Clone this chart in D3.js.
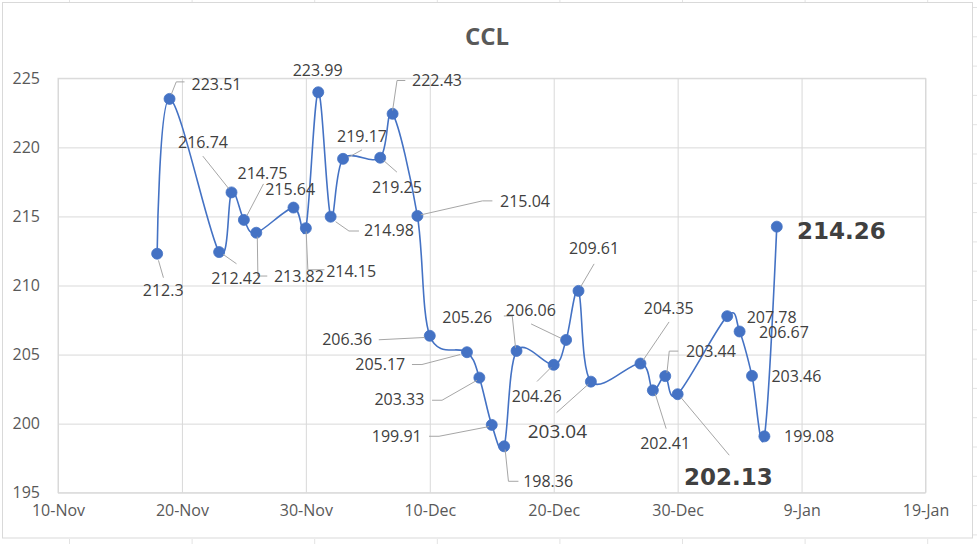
<!DOCTYPE html>
<html><head><meta charset="utf-8">
<script src="https://cdn.jsdelivr.net/npm/d3@7"></script>
<style>body{margin:0;background:#fff} svg{display:block}</style>
</head><body>
<svg id="c" width="980" height="544"></svg>
<script>
const title = "CCL";
const dates = ["2022-11-18","2022-11-19","2022-11-23","2022-11-24","2022-11-25","2022-11-26","2022-11-29","2022-11-30","2022-12-01","2022-12-02","2022-12-03","2022-12-06","2022-12-07","2022-12-09","2022-12-10","2022-12-13","2022-12-14","2022-12-15","2022-12-16","2022-12-17","2022-12-20","2022-12-21","2022-12-22","2022-12-23","2022-12-27","2022-12-28","2022-12-29","2022-12-30","2023-01-03","2023-01-04","2023-01-05","2023-01-06","2023-01-07"];
const values = [212.3,223.51,212.42,216.74,214.75,213.82,215.64,214.15,223.99,214.98,219.17,219.25,222.43,215.04,206.36,205.17,203.33,199.91,198.36,205.26,204.26,206.06,209.61,203.04,204.35,202.41,203.44,202.13,207.78,206.67,203.46,199.08,214.26];
const yTicks = [195,200,205,210,215,220,225];
const xTickDates = ["2022-11-10","2022-11-20","2022-11-30","2022-12-10","2022-12-20","2022-12-30","2023-01-09","2023-01-19"];

// label placement (layout only): offset of label centre from its point, leader polyline offsets
const labelLayout = [
 {dx:6,dy:37, lead:[[1.3,6.6],[6.3,24]]},
 {dx:47,dy:-15, lead:[[1.7,-4.4],[6.7,-17],[15,-17]]},
 {dx:17,dy:26, lead:[[4,2.3],[17.4,11.7]]},
 {dx:-28.5,dy:-50, lead:[[-2.7,-3.7],[-28.7,-36.3]]},
 {dx:18.6,dy:-46.6, lead:[[3,-4.3],[19.6,-36]]},
 {dx:42.6,dy:44, lead:[[1,4],[1.6,43.3],[11,43.3]]},
 {dx:-3.3,dy:-18.4},
 {dx:45.3,dy:42.6, lead:[[0.3,3.3],[2,41.6],[18.6,41.6]]},
 {dx:-0.6,dy:-21.7},
 {dx:58.3,dy:14, lead:[[5,5],[18.3,14.3],[28.3,14.3]]},
 {dx:19,dy:-22.3, lead:[[5.6,-1.6],[19,-9]]},
 {dx:16.7,dy:29.4, lead:[[3.3,2.7],[16.7,14.4]]},
 {dx:44.4,dy:-34, lead:[[0,-3.3],[4.4,-33.3],[12.7,-33.3]]},
 {dx:107.6,dy:-14.3, lead:[[3.3,-1],[65,-15],[75,-15]]},
 {dx:-82.6,dy:3.3, lead:[[-5,1.7],[-51,4]]},
 {dx:-86.7,dy:11.6, lead:[[-6.7,2.3],[-45,12.3],[-55,12.3]]},
 {dx:-80,dy:21.6, lead:[[-2.3,2.6],[-37.3,22.6],[-47.3,22.6]]},
 {dx:-95,dy:11.4, lead:[[-2.7,1.7],[-52.7,11.4],[-62.7,11.4]]},
 {dx:44,dy:35, lead:[[1,3.3],[4.3,35],[14.3,35]]},
 {dx:-49.3,dy:-33.3, lead:[[-1,-3.3],[-4.3,-35],[-12.7,-35]]},
 {dx:-17,dy:31.7, lead:[[-2.7,2.7],[-16.7,16.7]]},
 {dx:-35.3,dy:-30, lead:[[-5,-1.6],[-35,-16]]},
 {dx:15.6,dy:-42.7, lead:[[2.3,-4.3],[15.6,-27]]},
 {dx:-33.5,dy:49.3, lead:[[-2.6,2.6],[-34.3,31]], size:"mid"},
 {dx:28.3,dy:-55.6, lead:[[2.6,-3.3],[28.6,-41.6]]},
 {dx:12.3,dy:53.3, lead:[[2.3,3.3],[13.3,38.3]]},
 {dx:45.7,dy:-25, lead:[[1.7,-3.3],[4,-25],[13,-25]]},
 {dx:50.8,dy:82, lead:[[3.3,3.3],[51.6,61]], size:"big"},
 {dx:44.4,dy:1},
 {dx:44.3,dy:0.6},
 {dx:44.4,dy:0.7},
 {dx:44.7,dy:0},
 {dx:64.5,dy:3.6, size:"big"}
];

const parse = d3.utcParse("%Y-%m-%d");
const fmt = d3.utcFormat("%-d-%b");
const data = dates.map((d,i)=>({date:parse(d), value:values[i]}));

const svg = d3.select("#c");
const L=58, R=925.5, T=78.3, B=492.7;
const x = d3.scaleUtc().domain([parse(xTickDates[0]), parse(xTickDates[xTickDates.length-1])]).range([L,R]);
const y = d3.scaleLinear().domain([195,225]).range([B,T]);
const grid = "#d9d9d9";

// spreadsheet cell-grid fragments outside the chart
const deco = svg.append("g").attr("stroke","#e3e3e3").attr("stroke-width",1);
d3.range(0,8).forEach(k=>{
  const xx = 69.5 + k*122.6;
  deco.append("line").attr("x1",xx).attr("x2",xx).attr("y1",0).attr("y2",2);
  deco.append("line").attr("x1",xx).attr("x2",xx).attr("y1",539).attr("y2",544);
});
d3.range(0,19).forEach(k=>{
  const yy = 7.5 + k*29.3;
  deco.append("line").attr("x1",973).attr("x2",977).attr("y1",yy).attr("y2",yy);
});

// chart border
svg.append("rect").attr("x",2.5).attr("y",2.5).attr("width",970).attr("height",535.5)
  .attr("fill","#fff").attr("stroke",grid).attr("stroke-width",1);

// title
svg.append("text").attr("x",487).attr("y",36).attr("dy","0.36em").attr("text-anchor","middle")
  .attr("font-family","Open Sans").attr("font-weight","bold").attr("font-size",24).attr("fill","#595959").text(title);

// gridlines via axes
svg.append("g").attr("transform",`translate(0,${B})`)
  .call(d3.axisBottom(x).tickValues(xTickDates.map(parse)).tickSize(-(B-T)).tickFormat(""))
  .call(g=>{g.select(".domain").remove(); g.selectAll("line").attr("stroke",grid);});
svg.append("g").attr("transform",`translate(${L},0)`)
  .call(d3.axisLeft(y).tickValues(yTicks).tickSize(-(R-L)).tickFormat(""))
  .call(g=>{g.select(".domain").remove(); g.selectAll("line").attr("stroke",grid);});
svg.append("rect").attr("x",L).attr("y",T).attr("width",R-L).attr("height",B-T)
  .attr("fill","none").attr("stroke",grid);

// tick labels
svg.append("g").attr("transform",`translate(${L},0)`)
  .call(d3.axisLeft(y).tickValues(yTicks).tickSize(0).tickPadding(18).tickFormat(d3.format("d")))
  .call(g=>{g.select(".domain").remove();
    g.selectAll("text").attr("font-family","Open Sans").attr("font-size",16).attr("fill","#595959");});
svg.append("g").attr("transform",`translate(0,${B})`)
  .call(d3.axisBottom(x).tickValues(xTickDates.map(parse)).tickSize(0).tickPadding(12).tickFormat(fmt))
  .call(g=>{g.select(".domain").remove();
    g.selectAll("text").attr("font-family","Open Sans").attr("font-size",16).attr("fill","#595959");});

// line
const line = d3.line().x(d=>x(d.date)).y(d=>y(d.value)).curve(d3.curveCardinal.tension(0));
svg.append("path").datum(data).attr("d",line).attr("fill","none")
  .attr("stroke","#4472C4").attr("stroke-width",1.6);

// markers
svg.append("g").selectAll("circle").data(data).join("circle")
  .attr("cx",d=>x(d.date)).attr("cy",d=>y(d.value)).attr("r",5.5)
  .attr("fill","#4472C4").attr("stroke","#4472C4").attr("stroke-width",0.8);

// leader lines
const lg = svg.append("g").attr("fill","none").attr("stroke","#a6a6a6").attr("stroke-width",1);
data.forEach((d,i)=>{
  const lay = labelLayout[i];
  if(!lay.lead) return;
  const px = x(d.date), py = y(d.value);
  lg.append("polyline").attr("points", lay.lead.map(p=>[px+p[0],py+p[1]].join(",")).join(" "));
});

// data labels
svg.append("g").selectAll("text").data(data).join("text")
  .attr("x",(d,i)=>x(d.date)+labelLayout[i].dx)
  .attr("y",(d,i)=>y(d.value)+labelLayout[i].dy)
  .attr("text-anchor","middle")
  .attr("dy",(d,i)=>labelLayout[i].size==="big"?"0.365em":"0.36em")
  .attr("font-family",(d,i)=>labelLayout[i].size==="big"?"DejaVu Sans":"Open Sans")
  .attr("font-weight",(d,i)=>labelLayout[i].size==="big"?"bold":"normal")
  .attr("font-size",(d,i)=>labelLayout[i].size==="big"?23:(labelLayout[i].size==="mid"?19:16))
  .attr("fill","#404040")
  .text(d=>String(d.value));
</script>
</body></html>
